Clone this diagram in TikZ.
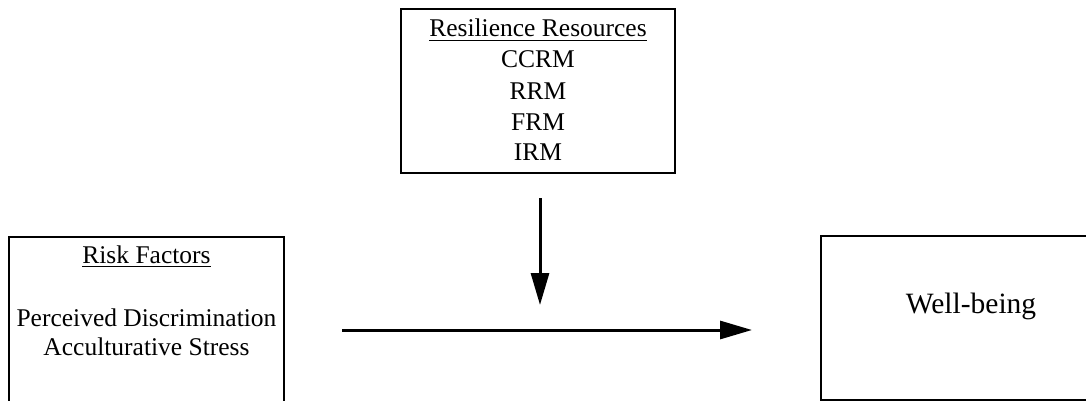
\documentclass[tikz,border=0pt]{standalone}
\usepackage{fontspec}
\setmainfont{Liberation Serif}
\usetikzlibrary{arrows.meta}
\tikzset{
  box/.style={draw, line width=1pt, inner sep=0pt},
  txt/.style={anchor=base, inner sep=0pt, font=\fontsize{12.75}{15}\selectfont},
  arrow/.style={line width=1.5pt, -{Triangle[length=16pt,width=9pt]}}
}
\begin{document}
\begin{tikzpicture}[x=0.5pt,y=-0.5pt]
\useasboundingbox (0,0) rectangle (1086,401);
\clip (0,0) rectangle (1086,401);
\node[box, minimum width=137pt, minimum height=82pt] (resil) at (538,91) {};
\node[box, minimum width=137.5pt, minimum height=90pt] (risk) at (146.5,327) {};
\node[box, minimum width=150pt, minimum height=82pt] (well) at (971,318) {};
\node[txt] (resiltitle) at (538,37) {\underline{Resilience Resources}};
\node[txt] (ccrm) at (538,68) {CCRM};
\node[txt] (rrm) at (538,99) {RRM};
\node[txt] (frm) at (538,130) {FRM};
\node[txt] (irm) at (538,160) {IRM};
\node[txt] (risktitle) at (146.5,263) {\underline{Risk Factors}};
\node[txt] (riskone) at (146.5,326) {Perceived Discrimination};
\node[txt] (risktwo) at (146.5,355) {Acculturative Stress};
\node[txt, font=\fontsize{14.75}{17}\selectfont] (welltext) at (971,313) {Well-being};
\coordinate (modtop) at (540,198);
\coordinate (modtip) at (540,305);
\coordinate (pathstart) at (342,330);
\coordinate (pathend) at (752,330);
\draw[arrow] (modtop) -- (modtip);
\draw[arrow] (pathstart) -- (pathend);
\end{tikzpicture}
\end{document}
